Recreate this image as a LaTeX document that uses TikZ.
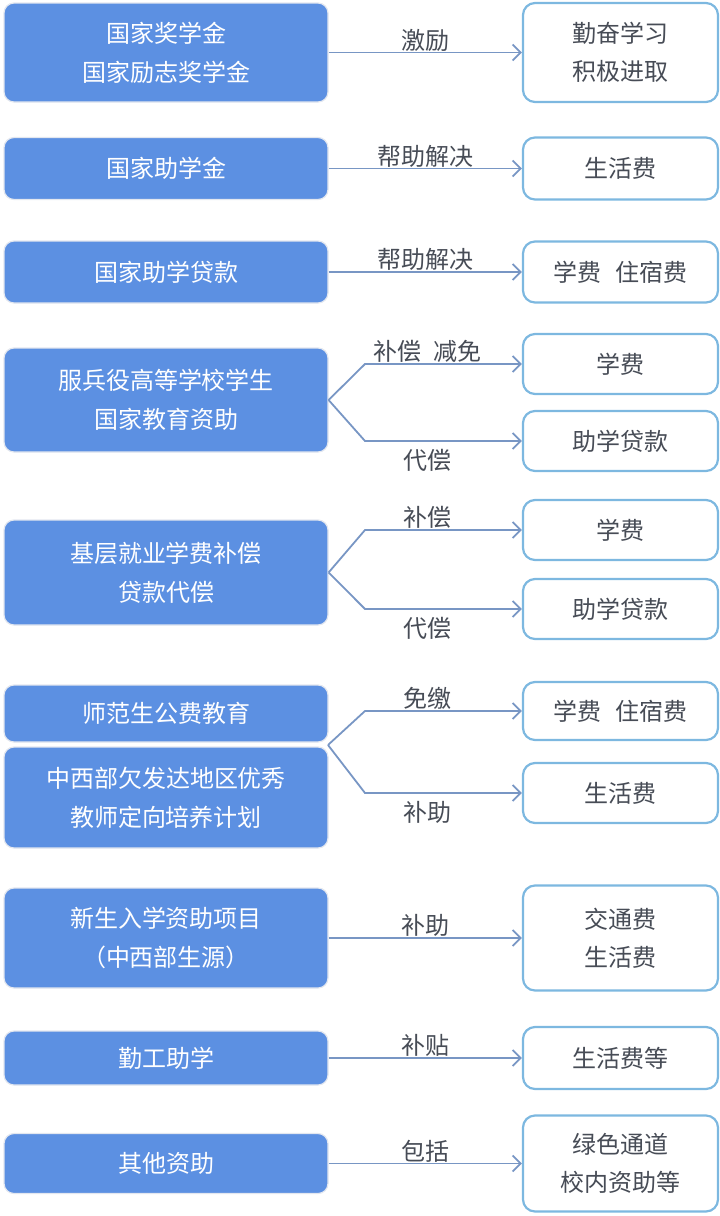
\documentclass[tikz,border=0pt]{standalone}
\usepackage{fontspec}
\setmainfont{Noto Sans CJK SC}
\usetikzlibrary{arrows.meta}
\definecolor{fillblue}{HTML}{5C90E2}
\definecolor{rimgray}{HTML}{E3E7EF}
\definecolor{edgeblue}{HTML}{7DB8E0}
\definecolor{linkblue}{HTML}{7896C4}
\definecolor{inkgray}{HTML}{474C56}

\begin{document}
\begin{tikzpicture}[x=1pt,y=-1pt,
	leftbox/.style={fill=fillblue, draw=rimgray, line width=1.2pt, rounded corners=10pt,
		minimum width=324pt, inner sep=0pt, text=white, align=center,
		font=\fontsize{24}{39}\selectfont},
	rightbox/.style={fill=white, draw=edgeblue, line width=2.2pt, rounded corners=12pt,
		minimum width=195pt, inner sep=0pt, text=inkgray, align=center,
		font=\fontsize{24}{38}\selectfont},
	link/.style={draw=linkblue, line width=1.8pt,
		-{Straight Barb[length=8pt,width=16pt,line width=1.8pt]}},
	lbl/.style={text=inkgray, inner sep=2pt, font=\fontsize{24}{28}\selectfont,
		text height=0.8em, text depth=0.05em},
	lblunder/.style={lbl, below=18pt}]
	\useasboundingbox (0,0) rectangle (720,1216);

	%links
	\node[leftbox, minimum height=99pt] (lb1) at (166,52.5) {国家奖学金\\国家励志奖学金};
	\node[leftbox, minimum height=62pt] (lb2) at (166,168.5) {国家助学金};
	\node[leftbox, minimum height=62pt] (lb3) at (166,272) {国家助学贷款};
	\node[leftbox, minimum height=104pt] (lb4) at (166,400) {服兵役高等学校学生\\国家教育资助};
	\node[leftbox, minimum height=105pt] (lb5) at (166,572.5) {基层就业学费补偿\\贷款代偿};
	\node[leftbox, minimum height=57pt] (lb6a) at (166,713.5) {师范生公费教育};
	\node[leftbox, minimum height=101pt] (lb6b) at (166,797.5) {中西部欠发达地区优秀\\教师定向培养计划};
	\node[leftbox, minimum height=100pt] (lb7) at (166,938) {新生入学资助项目\\（中西部生源）};
	\node[leftbox, minimum height=54pt] (lb8) at (166,1058) {勤工助学};
	\node[leftbox, minimum height=60pt] (lb9) at (166,1163.5) {其他资助};

	%rechts
	\node[rightbox, minimum height=99pt] (rb1) at (620.5,52.5) {勤奋学习\\积极进取};
	\node[rightbox, minimum height=62pt] (rb2) at (620.5,168.5) {生活费};
	\node[rightbox, minimum height=61pt] (rb3) at (620.5,272) {学费\hspace{0.6em}住宿费};
	\node[rightbox, minimum height=60pt] (rb4a) at (620.5,364) {学费};
	\node[rightbox, minimum height=60pt] (rb4b) at (620.5,441) {助学贷款};
	\node[rightbox, minimum height=60pt] (rb5a) at (620.5,530) {学费};
	\node[rightbox, minimum height=60pt] (rb5b) at (620.5,609) {助学贷款};
	\node[rightbox, minimum height=58pt] (rb6a) at (620.5,711) {学费\hspace{0.6em}住宿费};
	\node[rightbox, minimum height=60pt] (rb6b) at (620.5,793) {生活费};
	\node[rightbox, minimum height=105pt] (rb7) at (620.5,938) {交通费\\生活费};
	\node[rightbox, minimum height=62pt] (rb8) at (620.5,1058) {生活费等};
	\node[rightbox, minimum height=96pt] (rb9) at (620.5,1163.5) {绿色通道\\校内资助等};

	%knicke
	\coordinate (kx) at (365,0);
	\coordinate (j6) at (328,745);

	%pfeile
	\draw[link] (lb1.east) -- node[lbl,above,midway] {激励} (rb1.west);
	\draw[link] (lb2.east) -- node[lbl,above,midway] {帮助解决} (rb2.west);
	\draw[link] (lb3.east) -- node[lbl,above,midway] {帮助解决} (rb3.west);

	\draw[link] (lb4.east) -- (kx |- rb4a.west) -- node[lbl,above,pos=0.4] {补偿\hspace{0.5em}减免} (rb4a.west);
	\draw[link] (lb4.east) -- (kx |- rb4b.west) -- node[lblunder,pos=0.4] {代偿} (rb4b.west);

	\draw[link] (lb5.east) -- (kx |- rb5a.west) -- node[lbl,above,pos=0.4] {补偿} (rb5a.west);
	\draw[link] (lb5.east) -- (kx |- rb5b.west) -- node[lblunder,pos=0.4] {代偿} (rb5b.west);

	\draw[link] (j6) -- (kx |- rb6a.west) -- node[lbl,above,pos=0.4] {免缴} (rb6a.west);
	\draw[link] (j6) -- (kx |- rb6b.west) -- node[lblunder,pos=0.4] {补助} (rb6b.west);

	\draw[link] (lb7.east) -- node[lbl,above,midway] {补助} (rb7.west);
	\draw[link] (lb8.east) -- node[lbl,above,midway] {补贴} (rb8.west);
	\draw[link] (lb9.east) -- node[lbl,above,midway] {包括} (rb9.west);

\end{tikzpicture}
\end{document}
